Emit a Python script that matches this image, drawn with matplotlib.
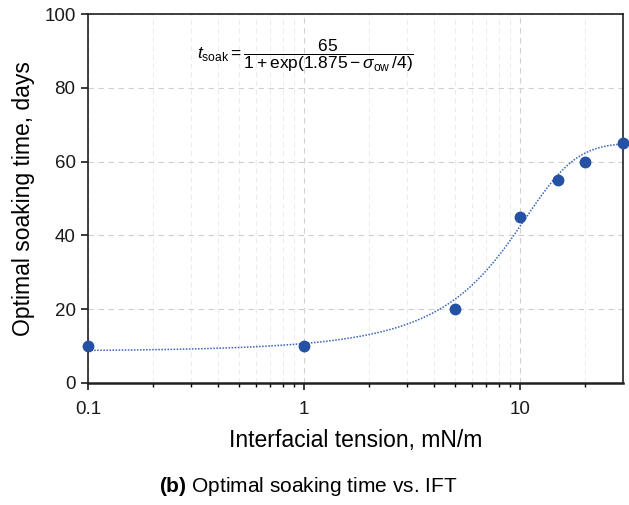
import numpy as np
import matplotlib
matplotlib.use("Agg")
import matplotlib.pyplot as plt
from matplotlib.ticker import FixedLocator, FixedFormatter, NullFormatter

plt.rcParams['font.family'] = ['Liberation Sans', 'DejaVu Sans']
plt.rcParams['mathtext.fontset'] = 'custom'
plt.rcParams['mathtext.rm'] = 'Liberation Sans'
plt.rcParams['mathtext.it'] = 'Liberation Sans:italic'
plt.rcParams['mathtext.bf'] = 'Liberation Sans:bold'

# datos medidos
ift = [0.1, 1, 5, 10, 15, 20, 30]
t_soak = [10, 10, 20, 45, 55, 60, 65]

# parametros del ajuste mostrado en la grafica
A_fit = 65
b_fit = 1.875
c_fit = 4

x_major = [0.1, 1, 10]
x_major_labels = ['0.1', '1', '10']
y_ticks = [0, 20, 40, 60, 80, 100]

azul = '#2451a4'

fig = plt.figure(figsize=(6.29, 5.05), dpi=100)
ax = fig.add_axes([0.140, 0.2416, 0.850, 0.7306])

xs = np.logspace(np.log10(0.1), np.log10(30), 300)
ax.plot(xs, A_fit / (1 + np.exp(b_fit - xs / c_fit)), ls=(0, (1, 1)), lw=1.1, color='#3a62b8', zorder=2)
ax.plot(ift, t_soak, 'o', ms=7.5, color=azul, zorder=3, clip_on=False)

ax.set_xscale('log')
ax.set_xlim(0.1, 30)
ax.set_ylim(0, 100)

ax.xaxis.set_major_locator(FixedLocator(x_major))
ax.xaxis.set_major_formatter(FixedFormatter(x_major_labels))
minors = [k * d for d in [0.1, 1, 10] for k in range(2, 10) if k * d < 30]
ax.xaxis.set_minor_locator(FixedLocator(minors))
ax.xaxis.set_minor_formatter(NullFormatter())
ax.set_yticks(y_ticks)

ax.grid(True, which='major', axis='both', ls=(0, (5, 4)), lw=0.8, color='#d0d0d0')
ax.grid(True, which='minor', axis='x', ls=(0, (5, 4)), lw=0.7, color='#ebebeb')
ax.set_axisbelow(True)

ax.tick_params(axis='both', which='major', direction='out', length=5, width=1.2, labelsize=13.5, colors='#1a1a1a', pad=4)
ax.tick_params(axis='x', which='major', pad=8)
ax.tick_params(axis='x', which='minor', direction='out', length=3, width=1.0)
for s in ax.spines.values():
    s.set_color('#231f20')
    s.set_linewidth(1.2)
ax.spines['bottom'].set_linewidth(1.8)

ax.set_xlabel('Interfacial tension, mN/m', fontsize=16.5)
ax.set_ylabel('Optimal soaking time, days', fontsize=16.5)
ax.xaxis.set_label_coords(0.5, -0.157)
ax.yaxis.set_label_coords(-0.12, 0.5)
ax.xaxis.label.set_va('center')
ax.yaxis.label.set_va('center')

ax.text(0.203, 0.887,
        r'$t_{\rm soak} = \dfrac{65}{1 + \mathrm{exp}(1.875 - \sigma_{\rm ow}\,/4)}$',
        transform=ax.transAxes, fontsize=12.5, va='center', ha='left')

fig.text(0.49, 0.036, r'$\mathbf{(b)}$ Optimal soaking time vs. IFT', fontsize=15, ha='center', va='center')

fig.savefig('out.png', dpi=100)
